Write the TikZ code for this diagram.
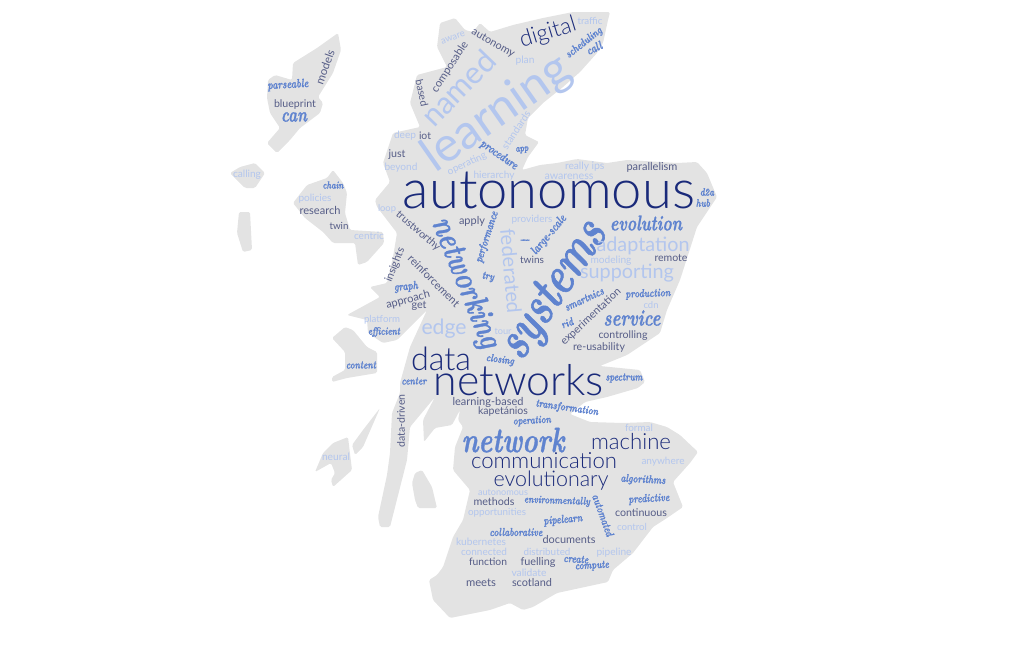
\documentclass[tikz,border=0pt]{standalone}
\usepackage{fontspec}
\usepackage{graphicx}
\newfontfamily\wordfont{Lato Light}
\newfontfamily\termfont{Lato}
\newfontfamily\inkfont{lmroman10-bolditalic.otf}[FakeBold=1.2]
\newcommand{\fitw}[2]{\resizebox{#1pt}{!}{#2}}
\newcommand{\inkw}[2]{\resizebox{#1pt}{!}{\scalebox{1}[1.35]{#2}}}
\definecolor{landgray}{HTML}{E3E3E3}
\definecolor{navyword}{HTML}{1A2A7A}
\definecolor{slateword}{HTML}{565D87}
\definecolor{paleword}{HTML}{B3C6EE}
\definecolor{inkword}{HTML}{5F83CF}
\tikzset{
    land/.style={fill=landgray,draw=none,rounded corners=1.5pt},
    bigword/.style={inner sep=0pt,text=navyword,font=\wordfont},
    smallword/.style={inner sep=0pt,text=slateword,font=\termfont},
    bigpale/.style={inner sep=0pt,text=paleword,font=\termfont},
    paleterm/.style={inner sep=0pt,text=paleword,font=\termfont},
    inkterm/.style={inner sep=0pt,text=inkword,font=\inkfont}
}
\begin{document}
\begin{tikzpicture}[x=1pt,y=-1pt]
    \useasboundingbox (0,0) rectangle (1032,646);

    % Mainland
    \fill[land] (440,23) -- (455,18) -- (465,30) -- (473,32) -- (480,23) -- (490,32) -- (513,25)
        -- (543,18) -- (573,12) -- (610,12) -- (608,20) -- (603,43) -- (597,53) -- (580,72)
        -- (563,87) -- (543,103) -- (528,118) -- (525,135) -- (539,142) -- (528,157) -- (522,170)
        -- (540,165) -- (557,163) -- (577,159) -- (607,163) -- (627,160) -- (677,163) -- (697,162)
        -- (707,173) -- (717,197) -- (697,227) -- (680,280) -- (667,310) -- (660,333) -- (627,355)
        -- (600,366) -- (640,370) -- (645,382) -- (638,388) -- (607,397) -- (585,402) -- (570,414)
        -- (590,422) -- (623,423) -- (650,422) -- (667,427) -- (680,435) -- (698,452) -- (690,463)
        -- (673,482) -- (683,507) -- (667,518) -- (653,527) -- (633,553) -- (613,570) -- (608,582)
        -- (557,593) -- (533,607) -- (523,610) -- (510,603) -- (490,610) -- (480,612) -- (450,618)
        -- (433,600) -- (429,580) -- (437,575) -- (443,567) -- (453,537) -- (463,520) -- (470,490)
        -- (453,470) -- (455,447) -- (463,427) -- (458,420) -- (460,410) -- (452,425) -- (435,428)
        -- (424,442) -- (423,420) -- (435,397) -- (410,427) -- (407,460) -- (390,527) -- (380,527)
        -- (378,517) -- (387,475) -- (390,453) -- (392,413) -- (400,393) -- (400,383) -- (410,347)
        -- (427,310) -- (397,340) -- (383,343) -- (368,333) -- (367,320) -- (347,315) -- (380,297)
        -- (370,287) -- (387,283) -- (393,257) -- (397,233) -- (377,207) -- (375,200) -- (390,182)
        -- (383,163) -- (393,133) -- (420,127) -- (410,103) -- (417,75) -- (447,67) -- (437,47) -- cycle;

    % Islands
    \fill[land] (338,33) -- (341,50) -- (333,73) -- (318,97) -- (323,103) -- (320,113) -- (300,128)
        -- (290,140) -- (277,153) -- (267,143) -- (280,128) -- (270,113) -- (267,98) -- (268,80)
        -- (275,75) -- (292,80) -- (293,63) -- (317,48) -- cycle;
    \fill[land] (230,173) -- (240,167) -- (255,163) -- (265,173) -- (255,188) -- (245,188) -- cycle;
    \fill[land] (239,212) -- (250,212) -- (252,250) -- (243,252) -- (237,233) -- cycle;
    \fill[land] (333,170) -- (343,183) -- (347,193) -- (345,213) -- (350,230) -- (383,232) -- (384,243)
        -- (367,262) -- (358,265) -- (355,243) -- (333,243) -- (323,232) -- (305,218) -- (293,203)
        -- (307,185) -- (327,178) -- cycle;
    \fill[land] (332,338) -- (345,327) -- (353,330) -- (367,347) -- (377,352) -- (377,373) -- (347,378)
        -- (332,382) -- (332,377) -- (345,370) -- (345,352) -- cycle;
    \fill[land] (348,437) -- (352,470) -- (333,487) -- (331,480) -- (335,473) -- (331,463) -- (315,472)
        -- (323,453) -- (333,443) -- cycle;
    \fill[land] (380,408) -- (363,447) -- (355,455) -- (352,445) -- (363,430) -- cycle;
    \fill[land] (422,470) -- (432,487) -- (437,508) -- (418,508) -- (415,500) -- (412,483) -- (415,473) -- cycle;

    % Far north
    \node[bigpale,rotate=35] (learning) at (497,114) {\fitw{169}{learning}};
    \node[bigpale,rotate=46] (named) at (458,88) {\fitw{92}{named}};
    \node[smallword,rotate=57] (composable) at (450,67) {\fitw{58}{composable}};
    \node[smallword,rotate=-78] (based) at (422,93) {\fitw{27}{based}};
    \node[paleterm,rotate=20] (aware) at (453,38) {\fitw{25}{aware}};
    \node[smallword,rotate=-30] (autonomy) at (493,43) {\fitw{48}{autonomy}};
    \node[bigword,rotate=17] (digital) at (548,33) {\fitw{58}{digital}};
    \node[paleterm] (plan) at (525,61) {\fitw{19}{plan}};
    \node[paleterm] (traffic) at (590,21) {\fitw{25}{traffic}};
    \node[inkterm,rotate=38] (scheduling) at (584,43) {\inkw{43}{scheduling}};
    \node[inkterm,rotate=25] (call) at (594,48) {\inkw{16}{call}};
    \node[paleterm] (deep) at (405,136) {\fitw{22}{deep}};
    \node[smallword] (iot) at (425,136) {\fitw{12}{iot}};
    \node[smallword] (just) at (397,155) {\fitw{17}{just}};
    \node[paleterm] (beyond) at (401,168) {\fitw{33}{beyond}};
    \node[paleterm,rotate=57] (standards) at (516,130) {\fitw{44}{standards}};
    \node[inkterm,rotate=-35] (procedure) at (499,155) {\inkw{43}{procedure}};
    \node[inkterm,rotate=5] (app) at (522,150) {\inkw{13}{app}};
    \node[paleterm,rotate=25] (operating) at (467,164) {\fitw{42}{operating}};
    \node[paleterm] (hierarchy) at (494,176) {\fitw{41}{hierarchy}};

    % Islands, words
    \node[smallword,rotate=70] (models) at (325,67) {\fitw{36}{models}};
    \node[inkterm,rotate=3] (parseable) at (288,85) {\inkw{41}{parseable}};
    \node[smallword] (blueprint) at (295,104) {\fitw{42}{blueprint}};
    \node[inkterm] (can) at (294,117) {\inkw{26}{can}};
    \node[paleterm] (calling) at (247,175) {\fitw{28}{calling}};
    \node[inkterm] (chain) at (333,185) {\inkw{21}{chain}};
    \node[paleterm] (policies) at (315,199) {\fitw{33}{policies}};
    \node[smallword] (research) at (320,210) {\fitw{41}{research}};
    \node[smallword] (twin) at (339,226) {\fitw{19}{twin}};
    \node[paleterm] (centric) at (369,236) {\fitw{30}{centric}};
    \node[inkterm] (content) at (361,365) {\inkw{30}{content}};
    \node[paleterm] (neural) at (336,457) {\fitw{28}{neural}};

    % West coast
    \node[paleterm] (loop) at (387,209) {\fitw{18}{loop}};
    \node[smallword,rotate=-41] (trustworthy) at (418,231) {\fitw{55}{trustworthy}};
    \node[smallword,rotate=68] (insights) at (395,265) {\fitw{36}{insights}};
    \node[smallword,rotate=-45] (reinforcement) at (434,281) {\fitw{68}{reinforcement}};
    \node[inkterm,rotate=5] (graph) at (406,287) {\inkw{24}{graph}};
    \node[smallword,rotate=15] (approach) at (408,300) {\fitw{45}{approach}};
    \node[smallword] (get) at (419,306) {\fitw{15}{get}};
    \node[paleterm] (platform) at (382,320) {\fitw{36}{platform}};
    \node[inkterm] (efficient) at (384,332) {\inkw{32}{efficient}};
    \node[bigpale] (edge) at (444,329) {\fitw{45}{edge}};
    \node[inkterm] (center) at (414,381) {\inkw{25}{center}};
    \node[smallword,rotate=90] (datadriven) at (401,421) {\fitw{53}{data-driven}};

    % Centre
    \node[bigword] (autonomous) at (549,190) {\fitw{292}{autonomous}};
    \node[bigword] (networks) at (519,380) {\fitw{170}{networks}};
    \node[bigword] (data) at (441,359) {\fitw{60}{data}};
    \node[inkterm,rotate=56] (systems) at (555,291) {\inkw{155}{systems}};
    \node[inkterm,rotate=-68] (networking) at (465,283) {\inkw{138}{networking}};
    \node[paleterm] (really) at (577,167) {\fitw{24}{really}};
    \node[paleterm] (ips) at (598,167) {\fitw{13}{ips}};
    \node[paleterm] (awareness) at (569,177) {\fitw{49}{awareness}};
    \node[smallword] (parallelism) at (652,167) {\fitw{51}{parallelism}};
    \node[inkterm] (dta) at (707,192) {\inkw{14}{d2a}};
    \node[inkterm] (hub) at (703,203) {\inkw{14}{hub}};
    \node[smallword] (apply) at (472,221) {\fitw{26}{apply}};
    \node[inkterm,rotate=72] (performance) at (487,237) {\inkw{53}{performance}};
    \node[paleterm] (providers) at (532,220) {\fitw{41}{providers}};
    \node[inkterm,rotate=50] (largescale) at (549,235) {\inkw{48}{large-scale}};
    \node[inkterm] (vehicular) at (525,240) {\inkw{9}{vehicular}};
    \node[inkterm] (evolution) at (646,223) {\inkw{72}{evolution}};
    \node[bigpale] (adaptation) at (643,246) {\fitw{93}{adaptation}};
    \node[bigpale,rotate=-85] (federated) at (511,271) {\fitw{85}{federated}};
    \node[paleterm] (modeling) at (611,261) {\fitw{41}{modeling}};
    \node[smallword] (remote) at (671,258) {\fitw{33}{remote}};
    \node[smallword] (twins) at (532,260) {\fitw{24}{twins}};
    \node[bigpale] (supporting) at (627,273) {\fitw{94}{supporting}};
    \node[inkterm,rotate=-10] (try) at (488,277) {\inkw{12}{try}};
    \node[inkterm,rotate=25] (smartnics) at (584,299) {\inkw{42}{smartnics}};
    \node[inkterm,rotate=2] (production) at (648,294) {\inkw{45}{production}};
    \node[smallword,rotate=43] (experimentation) at (591,317) {\fitw{78}{experimentation}};
    \node[paleterm] (cdn) at (651,305) {\fitw{15}{cdn}};
    \node[inkterm] (service) at (632,318) {\inkw{57}{service}};
    \node[inkterm,rotate=20] (rid) at (567,323) {\inkw{12}{rid}};
    \node[smallword] (controlling) at (623,336) {\fitw{49}{controlling}};
    \node[smallword] (reusability) at (599,347) {\fitw{52}{re-usability}};
    \node[paleterm] (tour) at (503,331) {\fitw{17}{tour}};
    \node[inkterm,rotate=-8] (closing) at (500,360) {\inkw{28}{closing}};
    \node[inkterm] (spectrum) at (624,378) {\inkw{37}{spectrum}};

    % South
    \node[smallword] (learningbased) at (488,402) {\fitw{71}{learning-based}};
    \node[smallword] (kapetanios) at (503,412) {\fitw{50}{kapetánios}};
    \node[inkterm,rotate=-8] (transformation) at (567,408) {\inkw{63}{transformation}};
    \node[inkterm,rotate=3] (operation) at (532,421) {\inkw{38}{operation}};
    \node[inkterm] (network) at (513,440) {\inkw{103}{network}};
    \node[paleterm] (formal) at (639,428) {\fitw{28}{formal}};
    \node[bigword] (machine) at (631,442) {\fitw{80}{machine}};
    \node[bigword] (communication) at (544,461) {\fitw{146}{communication}};
    \node[paleterm] (anywhere) at (663,462) {\fitw{43}{anywhere}};
    \node[bigword] (evolutionary) at (551,481) {\fitw{115}{evolutionary}};
    \node[inkterm,rotate=-3] (algorithms) at (643,480) {\inkw{45}{algorithms}};
    \node[paleterm] (autonomouslow) at (503,492) {\fitw{50}{autonomous}};
    \node[inkterm,rotate=3] (predictive) at (649,499) {\inkw{41}{predictive}};
    \node[inkterm,rotate=-2] (environmentally) at (557,501) {\inkw{66}{environmentally}};
    \node[smallword] (methods) at (494,502) {\fitw{41}{methods}};
    \node[smallword] (continuous) at (641,513) {\fitw{52}{continuous}};
    \node[paleterm] (opportunities) at (497,513) {\fitw{58}{opportunities}};
    \node[inkterm,rotate=-70] (automated) at (603,515) {\inkw{44}{automated}};
    \node[inkterm,rotate=5] (pipelearn) at (563,520) {\inkw{39}{pipelearn}};
    \node[paleterm] (control) at (632,527) {\fitw{30}{control}};
    \node[inkterm] (collaborative) at (516,532) {\inkw{53}{collaborative}};
    \node[smallword] (documents) at (569,540) {\fitw{53}{documents}};
    \node[paleterm] (kubernetes) at (481,542) {\fitw{50}{kubernetes}};
    \node[paleterm] (connected) at (484,552) {\fitw{46}{connected}};
    \node[paleterm] (distributed) at (547,552) {\fitw{47}{distributed}};
    \node[paleterm] (pipeline) at (614,553) {\fitw{35}{pipeline}};
    \node[smallword] (function) at (488,562) {\fitw{38}{function}};
    \node[smallword] (fuelling) at (538,562) {\fitw{35}{fuelling}};
    \node[inkterm,rotate=-4] (create) at (576,559) {\inkw{25}{create}};
    \node[inkterm,rotate=3] (compute) at (592,566) {\inkw{34}{compute}};
    \node[paleterm] (validate) at (529,573) {\fitw{35}{validate}};
    \node[smallword] (meets) at (481,583) {\fitw{30}{meets}};
    \node[smallword] (scotland) at (532,583) {\fitw{40}{scotland}};
\end{tikzpicture}
\end{document}
